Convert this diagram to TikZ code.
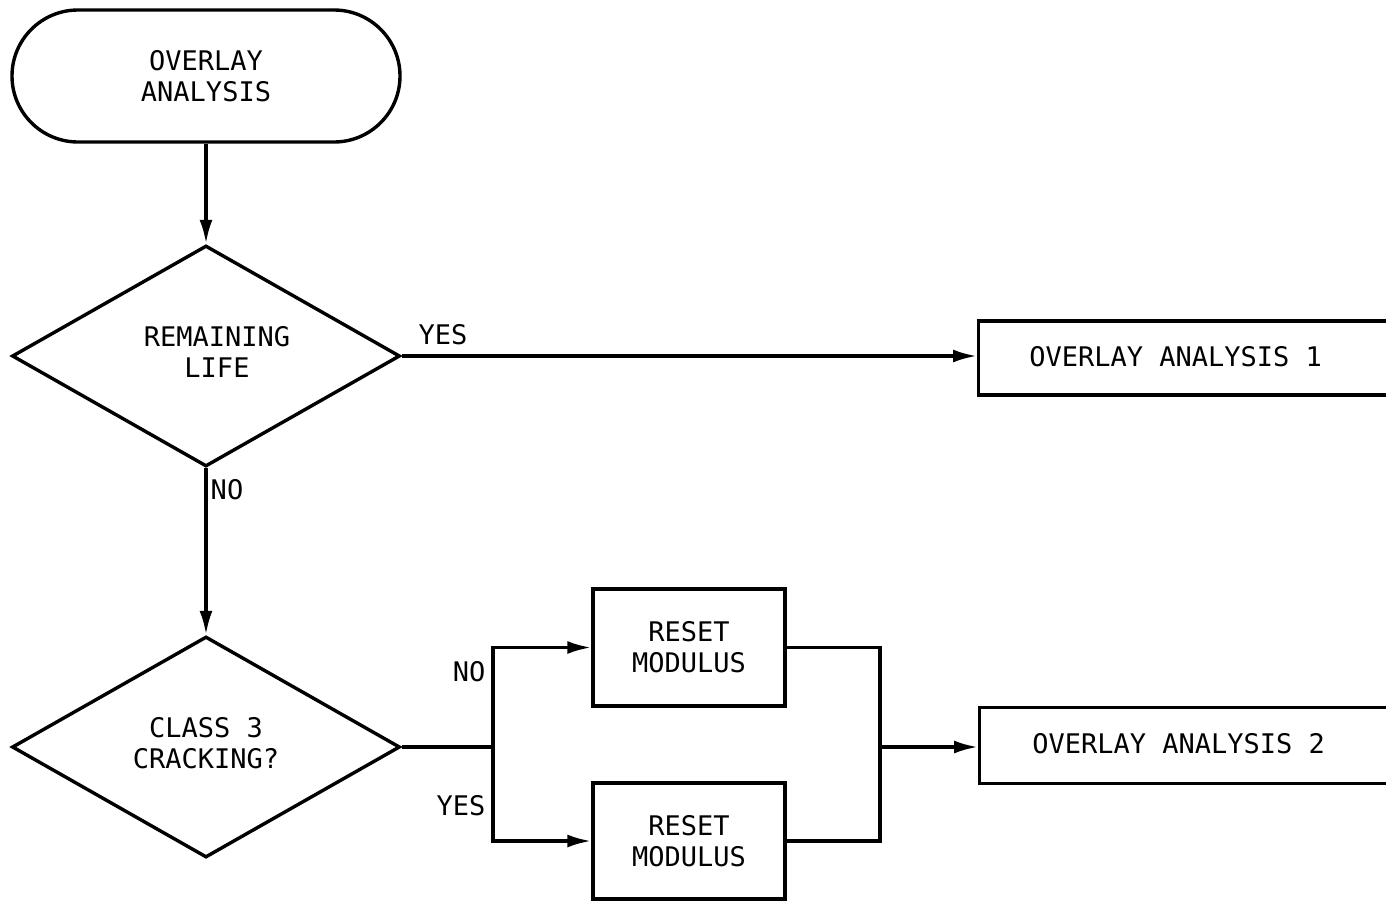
\documentclass[tikz,border=0pt]{standalone}
\usepackage{fontspec}
\setmonofont{DejaVu Sans Mono}
\usetikzlibrary{shapes.geometric,arrows.meta}

\begin{document}
\begin{tikzpicture}[x=1pt,y=-1pt,
  every node/.style={font=\fontsize{27}{31}\selectfont\ttfamily, inner sep=0pt},
  line/.style={line width=3.4pt},
  arr/.style={line width=3.4pt, -{Latex[length=24pt,width=13pt]}},
  terminal/.style={draw, line width=3.4pt, rectangle, rounded corners=66pt,
    minimum width=388pt, minimum height=132pt, align=center},
  decision/.style={draw, line width=3.4pt, diamond, aspect=1.75,
    minimum width=388pt, minimum height=221pt},
  process/.style={draw, line width=3.4pt, rectangle, align=center},
  tag/.style={anchor=center}
]
\clip (0,0) rectangle (1386,900);
\useasboundingbox (0,0) rectangle (1386,900);

% start
\node[terminal] (start) at (206,76) {OVERLAY\\ANALYSIS};

% first decision
\node[decision, label={[xshift=11pt,yshift=4pt,align=center]center:REMAINING\\LIFE}] (d1) at (206,356) {};

% output for remaining life
\node[process, anchor=west, minimum width=480pt, minimum height=74pt,
  label={[xshift=-43pt,yshift=1pt]center:OVERLAY ANALYSIS 1}] (b1) at (977,358) {};

% second decision
\node[decision, label={[yshift=4pt,align=center]center:CLASS 3\\CRACKING?}] (d2) at (206,747) {};

% reset modulus boxes
\node[process, minimum width=192pt, minimum height=117pt] (r1) at (689,647.5) {RESET\\MODULUS};
\node[process, minimum width=192pt, minimum height=116pt] (r2) at (689,841) {RESET\\MODULUS};

% output for cracking branch
\node[process, anchor=west, minimum width=480pt, minimum height=76pt,
  label={[xshift=-41pt,yshift=2pt]center:OVERLAY ANALYSIS 2}] (b2) at (978,745.5) {};

% branch points
\coordinate (j1) at (493,747);
\coordinate (j2) at (880,747);

% connectors
\draw[arr] (start.south) -- (d1.north);
\draw[arr] (d1.east) -- (d1.east -| b1.west);
\draw[arr] (d1.south) -- (d2.north);
\draw[line] (d2.east) -- (j1);
\draw[arr] (j1) |- (r1.west);
\draw[arr] (j1) |- (r2.west);
\draw[line] (r1.east) -| (j2);
\draw[line] (r2.east) -| (j2);
\draw[arr] (j2) -- (j2 -| b2.west);

% branch labels
\node[tag] (yes1) at (443,335) {YES};
\node[tag] (no1) at (227,490) {NO};
\node[tag] (no2) at (469,672) {NO};
\node[tag] (yes2) at (461,806) {YES};
\end{tikzpicture}
\end{document}
